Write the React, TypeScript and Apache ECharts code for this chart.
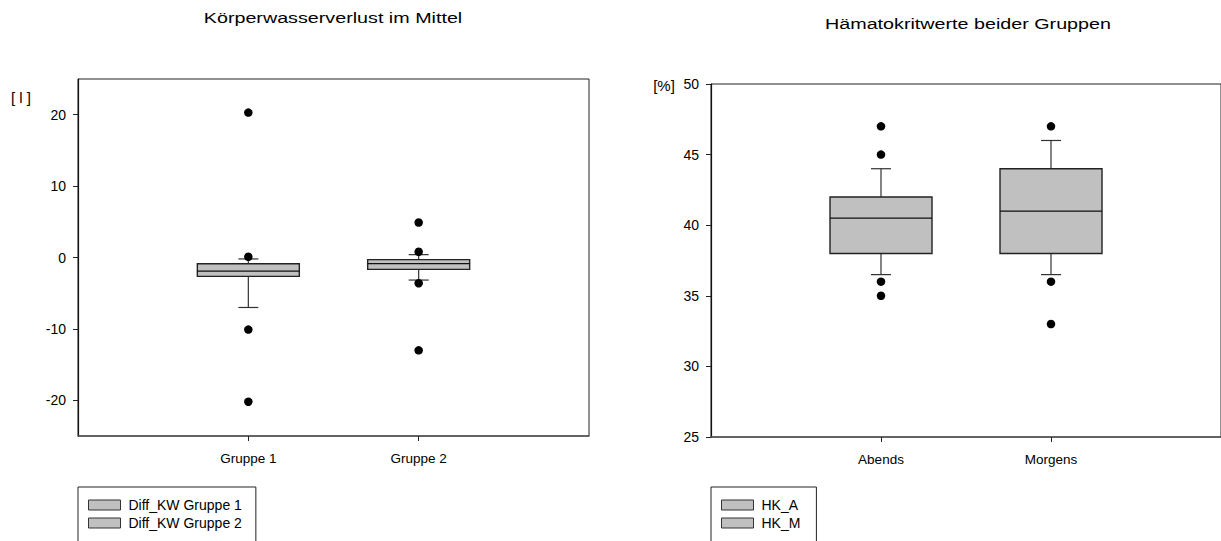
import React, { useEffect, useRef } from "react";
import * as echarts from "echarts";

const FONT = 'Arial, "Liberation Sans", sans-serif';

// Left chart
const leftTitle = "Körperwasserverlust im Mittel";
const leftUnit = "[ l ]";
const leftCategories = ["", "Gruppe 1", "Gruppe 2", ""];
const leftSeriesNames = ["Diff_KW Gruppe 1", "Diff_KW Gruppe 2"];
// [lower whisker, Q1, median, Q3, upper whisker]
const leftBox1 = [-7, -2.64, -1.9, -0.87, -0.2];
const leftBox2 = [-3.16, -1.66, -0.87, -0.3, 0.4];
const leftOutliers1 = [20.3, 0.1, -10.1, -20.2];
const leftOutliers2 = [4.9, 0.8, -3.6, -13.0];
const leftTicks = [-20, -10, 0, 10, 20];

// Right chart
const rightTitle = "Hämatokritwerte beider Gruppen";
const rightUnit = "[%]";
const rightCategories = ["", "Abends", "Morgens", ""];
const rightSeriesNames = ["HK_A", "HK_M"];
const rightBox1 = [36.5, 38, 40.5, 42, 44];
const rightBox2 = [36.5, 38, 41, 44, 46];
const rightOutliers1 = [47, 45, 36, 35];
const rightOutliers2 = [47, 36, 33];
const rightTicks = [25, 30, 35, 40, 45, 50];

const BOX_FILL = "#c0c0c0";

function renderBox(params: any, api: any) {
  const x = api.value(0);
  const low = api.coord([x, api.value(1)]);
  const q1 = api.coord([x, api.value(2)]);
  const med = api.coord([x, api.value(3)]);
  const q3 = api.coord([x, api.value(4)]);
  const high = api.coord([x, api.value(5)]);
  const cx = low[0];
  const hw = 51;
  const cw = 10;
  const ls = { stroke: "#333", lineWidth: 1.2 };
  return {
    type: "group",
    children: [
      { type: "line", shape: { x1: cx, y1: q1[1], x2: cx, y2: low[1] }, style: ls },
      { type: "line", shape: { x1: cx - cw, y1: low[1], x2: cx + cw, y2: low[1] }, style: ls },
      { type: "line", shape: { x1: cx, y1: q3[1], x2: cx, y2: high[1] }, style: ls },
      { type: "line", shape: { x1: cx - cw, y1: high[1], x2: cx + cw, y2: high[1] }, style: ls },
      {
        type: "rect",
        shape: { x: cx - hw, y: q3[1], width: 2 * hw, height: q1[1] - q3[1] },
        style: { fill: BOX_FILL, stroke: "#222", lineWidth: 1.4 },
      },
      { type: "line", shape: { x1: cx - hw, y1: med[1], x2: cx + hw, y2: med[1] }, style: { stroke: "#111", lineWidth: 1.2 } },
    ],
  };
}

function boxSeries(name: string, idx: number, box: number[], gridIdx: number) {
  return {
    name,
    type: "custom",
    xAxisIndex: gridIdx,
    yAxisIndex: gridIdx,
    renderItem: renderBox,
    itemStyle: { color: BOX_FILL },
    encode: { x: 0, y: [1, 2, 3, 4, 5] },
    data: [[idx, ...box]],
    z: 2,
  };
}

function outlierSeries(idx: number, vals: number[], gridIdx: number) {
  return {
    type: "scatter",
    xAxisIndex: gridIdx,
    yAxisIndex: gridIdx,
    symbol: "circle",
    symbolSize: 8.5,
    itemStyle: { color: "#000", opacity: 1 },
    data: vals.map((v) => [idx, v]),
    z: 5,
  };
}

function xAxisCfg(cats: string[], gridIndex: number) {
  return {
    type: "category",
    gridIndex,
    data: cats,
    boundaryGap: false,
    axisLine: { onZero: false, lineStyle: { color: "#555", width: 1.5 } },
    axisTick: {
      inside: false,
      length: 5,
      interval: (i: number) => i === 1 || i === 2,
      lineStyle: { color: "#222" },
    },
    axisLabel: {
      interval: (i: number) => i === 1 || i === 2,
      color: "#000",
      fontSize: 13.5,
      fontFamily: FONT,
      margin: 15,
    },
    splitLine: { show: false },
  };
}

function yAxisCfg(min: number, max: number, ticks: number[], gridIndex: number) {
  return {
    type: "value",
    gridIndex,
    min,
    max,
    interval: 5,
    axisLine: { show: true, onZero: false, lineStyle: { color: "#111", width: 1.2 } },
    axisTick: { show: true, length: 5, customValues: ticks, lineStyle: { color: "#222" } },
    axisLabel: { customValues: ticks, color: "#000", fontSize: 14, fontFamily: FONT, margin: 12 },
    splitLine: { show: false },
  };
}

function legendCfg(names: string[], left: number, padRight: number) {
  return {
    data: names,
    orient: "vertical",
    left,
    top: 487,
    height: 200,
    icon: "rect",
    itemWidth: 32,
    itemHeight: 10,
    itemGap: 4,
    padding: [11, padRight, 40, 10],
    borderColor: "#222",
    borderWidth: 1,
    selectedMode: false,
    itemStyle: { color: BOX_FILL, borderColor: "#333", borderWidth: 1 },
    textStyle: { fontSize: 14, color: "#000", fontFamily: FONT, padding: [0, 0, 0, 3] },
  };
}

export default function App() {
  const ref = useRef<HTMLDivElement>(null);
  useEffect(() => {
    if (!ref.current) return;
    const chart = echarts.init(ref.current, null, { renderer: "svg" });
    chart.setOption({
      animation: false,
      backgroundColor: "#fff",
      grid: [
        { left: 78, top: 79, width: 511, height: 357, show: true, borderColor: "#222", borderWidth: 1, backgroundColor: "transparent" },
        { left: 711, top: 84, width: 514, height: 353, show: true, borderColor: "#222", borderWidth: 1, backgroundColor: "transparent" },
      ],
      xAxis: [xAxisCfg(leftCategories, 0), xAxisCfg(rightCategories, 1)],
      yAxis: [yAxisCfg(-25, 25, leftTicks, 0), yAxisCfg(25, 50, rightTicks, 1)],
      legend: [legendCfg(leftSeriesNames, 78, 14), legendCfg(rightSeriesNames, 711, 16)],
      graphic: [
        {
          type: "text",
          x: 333,
          y: 18,
          scaleX: 1.36,
          style: { text: leftTitle, fontSize: 14.5, fontFamily: FONT, fill: "#000", textAlign: "center", textVerticalAlign: "middle" },
        },
        {
          type: "text",
          x: 968,
          y: 23.5,
          scaleX: 1.36,
          style: { text: rightTitle, fontSize: 14.5, fontFamily: FONT, fill: "#000", textAlign: "center", textVerticalAlign: "middle" },
        },
        {
          type: "text",
          x: 21,
          y: 97,
          style: { text: leftUnit, fontSize: 15, fontFamily: FONT, fill: "#000", textAlign: "center", textVerticalAlign: "middle" },
        },
        {
          type: "text",
          x: 664,
          y: 85,
          style: { text: rightUnit, fontSize: 15, fontFamily: FONT, fill: "#000", textAlign: "center", textVerticalAlign: "middle" },
        },
      ],
      series: [
        boxSeries(leftSeriesNames[0], 1, leftBox1, 0),
        boxSeries(leftSeriesNames[1], 2, leftBox2, 0),
        outlierSeries(1, leftOutliers1, 0),
        outlierSeries(2, leftOutliers2, 0),
        boxSeries(rightSeriesNames[0], 1, rightBox1, 1),
        boxSeries(rightSeriesNames[1], 2, rightBox2, 1),
        outlierSeries(1, rightOutliers1, 1),
        outlierSeries(2, rightOutliers2, 1),
      ],
    });
    return () => chart.dispose();
  }, []);
  return <div ref={ref} style={{ position: "absolute", left: 0, top: 0, width: 1221, height: 541 }} />;
}
